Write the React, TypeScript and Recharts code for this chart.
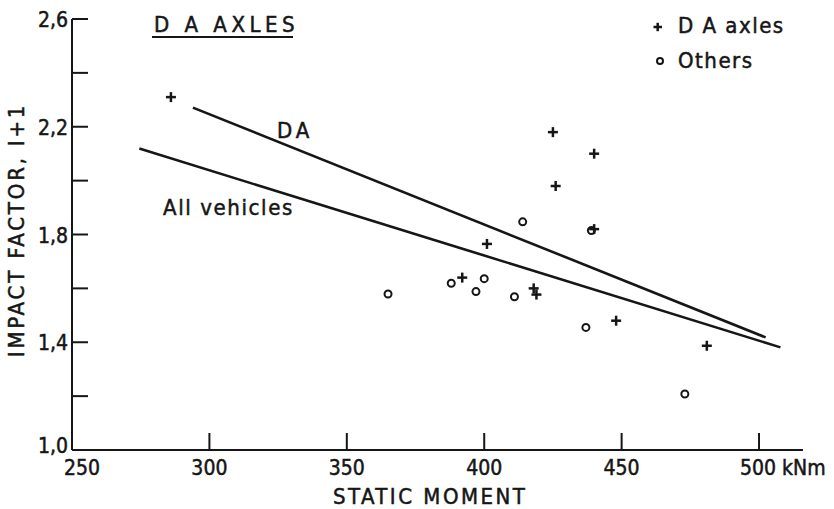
import { Scatter, ScatterChart, XAxis, YAxis } from "recharts";

// static moment (kNm) vs impact factor I+1
const daAxles = [
  { x: 286, y: 2.31 },
  { x: 425, y: 2.18 },
  { x: 440, y: 2.1 },
  { x: 426, y: 1.98 },
  { x: 401, y: 1.765 },
  { x: 392, y: 1.64 },
  { x: 418, y: 1.6 },
  { x: 419, y: 1.577 },
  { x: 448, y: 1.48 },
  { x: 481, y: 1.387 },
  { x: 440, y: 1.82 },
];

const others = [
  { x: 365, y: 1.579 },
  { x: 388, y: 1.619 },
  { x: 397, y: 1.588 },
  { x: 400, y: 1.636 },
  { x: 411, y: 1.569 },
  { x: 437, y: 1.455 },
  { x: 473, y: 1.208 },
  { x: 414, y: 1.847 },
  { x: 439, y: 1.815 },
];

const daFit = [
  { x: 294, y: 2.271 },
  { x: 502.4, y: 1.418 },
];

const allFit = [
  { x: 274.5, y: 2.119 },
  { x: 507.8, y: 1.381 },
];

const xTicks = [250, 300, 350, 400, 450, 500];
const yTicks = [1.0, 1.2, 1.4, 1.6, 1.8, 2.0, 2.2, 2.4, 2.6];
const yLabelTicks = [1.0, 1.4, 1.8, 2.2, 2.6];

const INK = "#161616";
const FONT = '"DejaVu Sans Condensed", "DejaVu Sans", sans-serif';
const THICK = { stroke: INK, strokeWidth: 0.5 };

const Plus = (props: any) => {
  const { cx, cy } = props;
  return (
    <g stroke={INK} strokeWidth={2.5}>
      <line x1={cx - 5} y1={cy} x2={cx + 5} y2={cy} />
      <line x1={cx} y1={cy - 5} x2={cx} y2={cy + 5} />
    </g>
  );
};

const Ring = (props: any) => {
  const { cx, cy } = props;
  return <circle cx={cx} cy={cy} r={3.5} fill="none" stroke={INK} strokeWidth={2} />;
};

const Nothing = () => <g />;

const XTick = (props: any) => {
  const { x, y, payload } = props;
  const v = payload.value;
  return (
    <g>
      {v !== 250 && (
        <line x1={x} y1={y} x2={x} y2={y - 17} stroke={INK} strokeWidth={2} />
      )}
      {v === 500 ? (
        <text x={x - 19} y={y + 25} fill={INK} fontSize={21} fontFamily={FONT} {...THICK}>
          500
          <tspan dx={6}>kNm</tspan>
        </text>
      ) : (
        <text
          x={v === 250 ? x + 10 : x}
          y={y + 25}
          textAnchor="middle"
          fill={INK}
          fontSize={21}
          fontFamily={FONT}
          {...THICK}
        >
          {v}
        </text>
      )}
    </g>
  );
};

const YTick = (props: any) => {
  const { x, y, payload } = props;
  const v = payload.value;
  const labelled = yLabelTicks.some((t) => Math.abs(t - v) < 1e-6);
  return (
    <g>
      {v > 1.01 && (
        <line x1={x} y1={y} x2={x + 16} y2={y} stroke={INK} strokeWidth={2} />
      )}
      {labelled && (
        <text
          x={x - 4}
          y={v < 1.01 ? y + 3 : y + 8}
          textAnchor="end"
          fill={INK}
          fontSize={21}
          fontFamily={FONT}
          {...THICK}
        >
          {v.toFixed(1).replace(".", ",")}
        </text>
      )}
    </g>
  );
};

export default function App() {
  return (
    <div style={{ position: "relative", width: 834, height: 509, background: "#fff" }}>
      <style>{`body{margin:0}`}</style>
      <ScatterChart width={834} height={509} margin={{ top: 19, right: 31, bottom: 0, left: 0 }}>
        <XAxis
          type="number"
          dataKey="x"
          domain={[250, 516]}
          ticks={xTicks}
          height={59}
          tickSize={0}
          tickMargin={0}
          tick={<XTick />}
          axisLine={{ stroke: INK, strokeWidth: 2 }}
          allowDataOverflow
        />
        <YAxis
          type="number"
          dataKey="y"
          domain={[1.0, 2.6]}
          ticks={yTicks}
          width={72}
          tickSize={0}
          tickMargin={0}
          tick={<YTick />}
          axisLine={{ stroke: INK, strokeWidth: 2 }}
          allowDataOverflow
        />
        <Scatter
          data={daFit}
          line={{ stroke: INK, strokeWidth: 2.6 }}
          shape={<Nothing />}
          isAnimationActive={false}
        />
        <Scatter
          data={allFit}
          line={{ stroke: INK, strokeWidth: 2.6 }}
          shape={<Nothing />}
          isAnimationActive={false}
        />
        <Scatter data={others} shape={<Ring />} isAnimationActive={false} />
        <Scatter data={daAxles} shape={<Plus />} isAnimationActive={false} />
      </ScatterChart>
      <svg
        width={834}
        height={509}
        style={{ position: "absolute", left: 0, top: 0, pointerEvents: "none" }}
        fontFamily={FONT}
        fill={INK}
        stroke={INK}
        strokeWidth={0.5}
      >
        <text x={154} y={32} fontSize={22} letterSpacing={4.5}>
          D A AXLES
        </text>
        <line x1={152} y1={37} x2={293} y2={37} stroke={INK} strokeWidth={2} />

        <g stroke={INK} strokeWidth={2.5}>
          <line x1={653.5} y1={27} x2={662} y2={27} />
          <line x1={657.7} y1={22.8} x2={657.7} y2={31.2} />
        </g>
        <text x={678} y={33} fontSize={22} letterSpacing={1.5}>
          D A axles
        </text>
        <circle cx={660} cy={61} r={3} fill="none" stroke={INK} strokeWidth={2} />
        <text x={678} y={68} fontSize={22} letterSpacing={1.5}>
          Others
        </text>

        <text x={277} y={138} fontSize={22} letterSpacing={4}>
          DA
        </text>
        <text x={163} y={215} fontSize={22} letterSpacing={1.6}>
          All vehicles
        </text>

        <text x={333} y={504} fontSize={22} letterSpacing={2.5}>
          STATIC MOMENT
        </text>
        <text
          transform="translate(24,230) rotate(-90)"
          textAnchor="middle"
          fontSize={22}
          letterSpacing={2.8}
        >
          IMPACT FACTOR, I+1
        </text>
      </svg>
    </div>
  );
}
